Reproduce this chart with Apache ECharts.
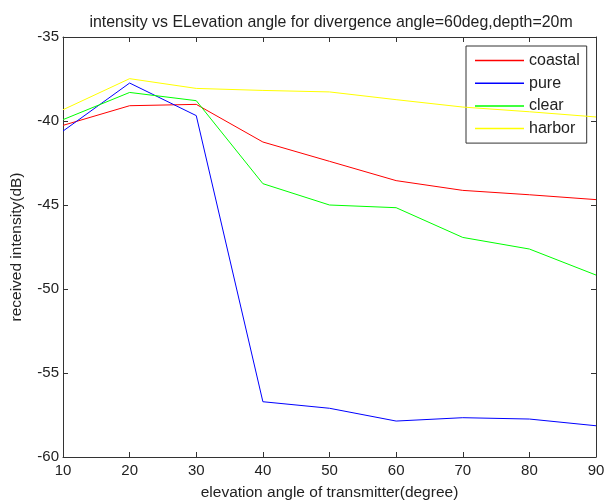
<!DOCTYPE html>
<html>
<head>
<meta charset="utf-8">
<script src="https://cdn.jsdelivr.net/npm/echarts@6/dist/echarts.min.js"></script>
<style>html,body{margin:0;padding:0;background:#fff;}#c{width:606px;height:502px;}</style>
</head>
<body>
<div id="c"></div>
<script>
const angles = [10, 20, 30, 40, 50, 60, 70, 80, 90];
const coastal = [-40.26, -39.09, -39.01, -41.25, -42.4, -43.55, -44.13, -44.39, -44.68];
const pure = [-40.6, -37.74, -39.68, -56.71, -57.1, -57.86, -57.66, -57.74, -58.14];
const clear = [-39.92, -38.3, -38.79, -43.73, -45.0, -45.16, -46.93, -47.62, -49.17];
const harbor = [-39.33, -37.48, -38.06, -38.18, -38.27, -38.73, -39.17, -39.45, -39.76];
const seriesNames = ['coastal', 'pure', 'clear', 'harbor'];
const seriesColors = ['#ff0000', '#0000ff', '#00ff00', '#ffff00'];
const titleText = 'intensity vs ELevation angle for divergence angle=60deg,depth=20m';
const xTitle = 'elevation angle of transmitter(degree)';
const yTitle = 'received intensity(dB)';

const FONT = 'Liberation Sans, Arial, sans-serif';
const chart = echarts.init(document.getElementById('c'), null, {renderer: 'canvas'});
const allData = [coastal, pure, clear, harbor];
const axisLine = {show: true, lineStyle: {color: '#333', width: 1}};
const tick = {show: true, inside: true, length: 5, lineStyle: {color: '#333'}};
const option = {
  backgroundColor: '#fff',
  animation: false,
  title: {
    text: titleText, left: 326, top: 10, textAlign: 'center',
    textStyle: {fontFamily: FONT, fontSize: 15.9, fontWeight: 'normal', color: '#222'}
  },
  grid: {left: 63, right: 10, top: 37, bottom: 45, containLabel: false, outerBoundsMode: 'none'},
  legend: {
    orient: 'vertical', left: 466, top: 46,
    data: seriesNames.map((n, i) => ({name: n, icon: 'rect', itemStyle: {color: seriesColors[i]}})),
    itemWidth: 49, itemHeight: 1.5, itemGap: 6.7,
    padding: [6.5, 7, 6.5, 9],
    borderColor: '#333', borderWidth: 1, backgroundColor: '#fff', borderRadius: 0,
    textStyle: {fontFamily: FONT, fontSize: 16, color: '#222'}
  },
  xAxis: [{
    type: 'value', min: 10, max: 90, interval: 10,
    name: xTitle, nameLocation: 'middle', nameGap: 28,
    nameTextStyle: {fontFamily: FONT, fontSize: 15.5, color: '#222'},
    axisLine: axisLine, axisTick: tick,
    axisLabel: {fontFamily: FONT, fontSize: 15, color: '#222', margin: 6},
    splitLine: {show: false}
  }, {
    type: 'value', min: 10, max: 90, interval: 10, position: 'top',
    axisLine: axisLine, axisTick: tick,
    axisLabel: {show: false}, splitLine: {show: false}
  }],
  yAxis: [{
    type: 'value', min: -60, max: -35, interval: 5,
    name: yTitle, nameLocation: 'middle', nameGap: 38, nameRotate: 90,
    nameTextStyle: {fontFamily: FONT, fontSize: 15.5, color: '#222'},
    axisLine: axisLine, axisTick: tick,
    axisLabel: {fontFamily: FONT, fontSize: 15, color: '#222', margin: 4},
    splitLine: {show: false}
  }, {
    type: 'value', min: -60, max: -35, interval: 5, position: 'right',
    axisLine: axisLine, axisTick: tick,
    axisLabel: {show: false}, splitLine: {show: false}
  }],
  series: seriesNames.map((n, i) => ({
    name: n, type: 'line', symbol: 'none', showSymbol: false,
    xAxisIndex: 0, yAxisIndex: 0,
    data: angles.map((a, j) => [a, allData[i][j]]),
    lineStyle: {color: seriesColors[i], width: 1},
    itemStyle: {color: seriesColors[i]},
    z: 2 + i
  }))
};
chart.setOption(option);
</script>
</body>
</html>
